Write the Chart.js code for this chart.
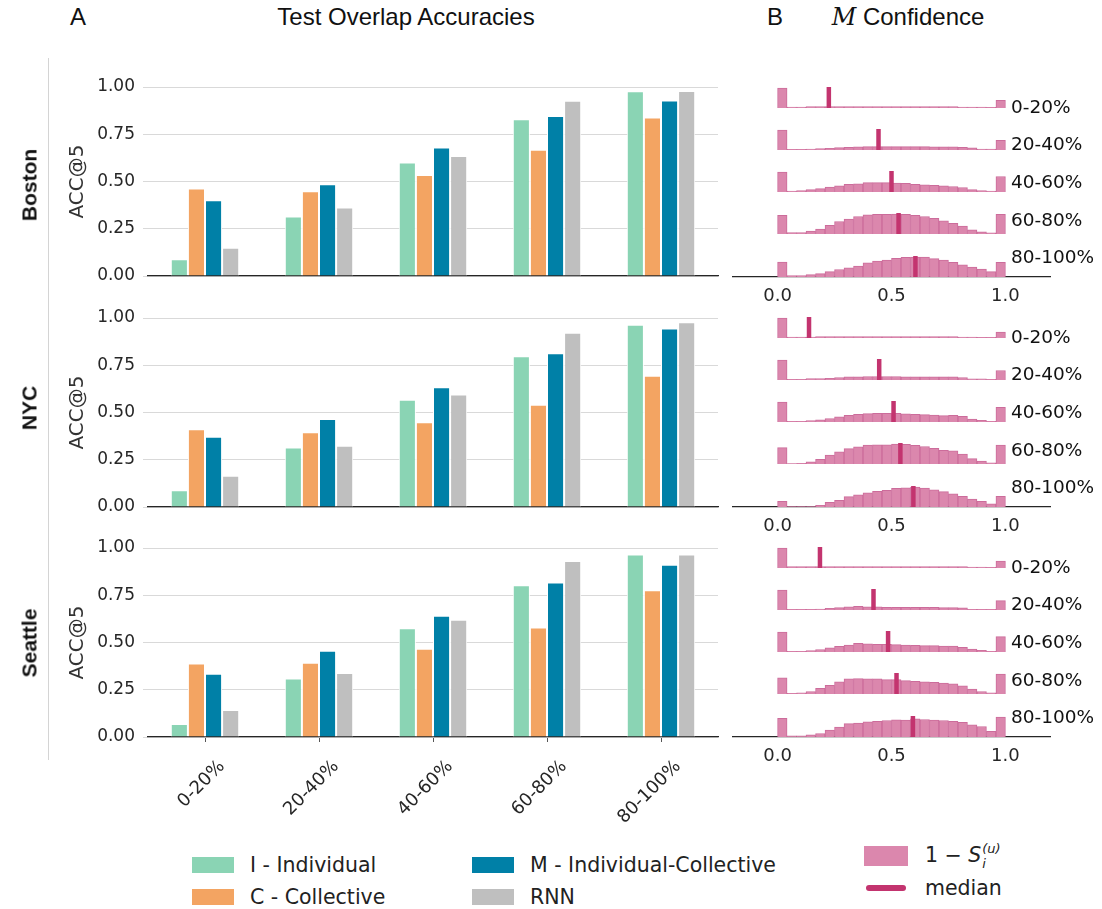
<!DOCTYPE html>
<html>
<head>
<meta charset="utf-8">
<script src="https://cdn.jsdelivr.net/npm/chart.js@4.4.1/dist/chart.umd.min.js"></script>
<style>
  html, body { margin: 0; padding: 0; background: #fff; }
  body { width: 1102px; height: 909px; position: relative; overflow: hidden; font-family: "DejaVu Sans", sans-serif; color: #262626; }
  canvas { position: absolute; }
  .txt { position: absolute; white-space: nowrap; line-height: 1; }
  .c { transform: translate(-50%, -50%); }
  .lm { transform: translateY(-50%); }
  .head { font-family: "Liberation Sans", Arial, sans-serif; font-size: 24px; color: #111; }
  .city { font-family: "Liberation Sans", Arial, sans-serif; font-weight: bold; font-size: 21px; color: #111; transform: translate(-50%, -50%) rotate(-90deg); }
  .rowlab { font-size: 18.5px; color: #111; }
  .leg { font-size: 20.5px; color: #222; }
  .patch { position: absolute; }
  .ms { display: inline-flex; flex-direction: column; vertical-align: middle; font-size: 13px; line-height: 1; margin-left: 1px; }
</style>
</head>
<body>
<script>
// ---- overlap buckets and methods ----
const overlapBins = ['0-20%', '20-40%', '40-60%', '60-80%', '80-100%'];
const methodNames = ['I - Individual', 'C - Collective', 'M - Individual-Collective', 'RNN'];
const accTicks = [0, 0.25, 0.5, 0.75, 1.0];
const confTicks = [0, 0.5, 1.0];

// ---- ACC@5 per overlap bucket ----
const bostonIndividual = [0.088, 0.315, 0.600, 0.830, 0.977];
const bostonCollective = [0.463, 0.449, 0.534, 0.668, 0.839];
const bostonMixed      = [0.401, 0.486, 0.680, 0.846, 0.929];
const bostonRnn        = [0.150, 0.362, 0.635, 0.927, 0.979];

const nycIndividual = [0.089, 0.315, 0.568, 0.798, 0.964];
const nycCollective = [0.412, 0.395, 0.448, 0.541, 0.694];
const nycMixed      = [0.372, 0.466, 0.634, 0.814, 0.945];
const nycRnn        = [0.165, 0.324, 0.595, 0.922, 0.977];

const seattleIndividual = [0.069, 0.310, 0.576, 0.803, 0.965];
const seattleCollective = [0.389, 0.393, 0.467, 0.579, 0.776];
const seattleMixed      = [0.335, 0.456, 0.641, 0.818, 0.911];
const seattleRnn        = [0.143, 0.338, 0.620, 0.931, 0.965];

// ---- M confidence histograms (24 bins over [0, 1]), one per overlap bucket ----
const bostonConf0_20   = [60, 3, 3, 4, 4, 4, 4, 4, 4, 4, 4, 4, 4, 4, 4, 4, 4, 4, 4, 3, 3, 3, 2, 23];
const bostonConf20_40  = [58, 2, 2, 3, 4, 5, 7, 8, 9, 10, 10, 10, 10, 10, 10, 10, 9, 9, 9, 8, 6, 3, 3, 28];
const bostonConf40_60  = [58, 3, 4, 7, 10, 14, 18, 22, 24, 27, 27, 27, 26, 25, 22, 21, 19, 18, 16, 13, 7, 4, 3, 45];
const bostonConf60_80  = [52, 4, 4, 8, 14, 24, 35, 42, 49, 54, 55, 55, 56, 55, 52, 49, 44, 37, 30, 22, 12, 6, 3, 55];
const bostonConf80_100 = [44, 4, 4, 7, 10, 16, 22, 27, 32, 42, 47, 50, 55, 58, 59, 59, 54, 50, 43, 36, 29, 23, 16, 43];
const bostonMedians    = [0.225, 0.443, 0.500, 0.531, 0.605];

const nycConf0_20   = [58, 3, 3, 3, 4, 4, 4, 4, 4, 4, 4, 4, 4, 4, 4, 4, 4, 4, 4, 3, 3, 2, 2, 17];
const nycConf20_40  = [57, 2, 2, 4, 4, 5, 7, 9, 9, 10, 10, 10, 10, 9, 9, 9, 9, 9, 9, 7, 3, 3, 2, 27];
const nycConf40_60  = [57, 2, 2, 4, 6, 10, 15, 19, 22, 24, 25, 25, 25, 23, 22, 21, 20, 18, 19, 16, 8, 5, 2, 42];
const nycConf60_80  = [46, 1, 2, 6, 13, 25, 34, 43, 48, 53, 54, 54, 56, 55, 52, 49, 44, 38, 37, 28, 15, 8, 3, 53];
const nycConf80_100 = [16, 1, 1, 1, 5, 13, 19, 29, 34, 40, 44, 47, 52, 54, 56, 53, 48, 43, 37, 30, 22, 16, 9, 30];
const nycMedians    = [0.138, 0.446, 0.509, 0.539, 0.596];

const seattleConf0_20   = [58, 4, 4, 4, 4, 4, 4, 4, 4, 4, 4, 4, 4, 4, 4, 4, 4, 4, 4, 4, 3, 3, 2, 20];
const seattleConf20_40  = [58, 2, 2, 2, 3, 5, 7, 9, 11, 9, 9, 8, 8, 8, 8, 8, 8, 7, 7, 6, 2, 2, 2, 27];
const seattleConf40_60  = [57, 2, 2, 4, 7, 12, 16, 20, 25, 23, 22, 22, 21, 20, 19, 18, 18, 17, 17, 13, 8, 5, 2, 44];
const seattleConf60_80  = [46, 2, 3, 7, 16, 25, 35, 43, 44, 43, 43, 41, 41, 38, 36, 35, 33, 31, 29, 23, 14, 7, 3, 57];
const seattleConf80_100 = [53, 3, 3, 6, 10, 20, 28, 38, 40, 43, 45, 47, 49, 48, 52, 50, 48, 47, 45, 42, 35, 30, 16, 57];
const seattleMedians    = [0.186, 0.421, 0.485, 0.522, 0.594];

// ---- styling ----
const methodColors = ['#8ad4b4', '#f3a462', '#0080a7', '#bfbfbf'];
const histFill = '#db87ad';
const histEdge = '#cc6c9b';
const medianColor = '#c3346f';
const inkColor = '#262626';

Chart.defaults.font.family = '"DejaVu Sans", sans-serif';
Chart.defaults.color = inkColor;

const cities = [
  { name: 'Boston',  series: [bostonIndividual, bostonCollective, bostonMixed, bostonRnn],
    hists: [bostonConf0_20, bostonConf20_40, bostonConf40_60, bostonConf60_80, bostonConf80_100], medians: bostonMedians },
  { name: 'NYC',     series: [nycIndividual, nycCollective, nycMixed, nycRnn],
    hists: [nycConf0_20, nycConf20_40, nycConf40_60, nycConf60_80, nycConf80_100], medians: nycMedians },
  { name: 'Seattle', series: [seattleIndividual, seattleCollective, seattleMixed, seattleRnn],
    hists: [seattleConf0_20, seattleConf20_40, seattleConf40_60, seattleConf60_80, seattleConf80_100], medians: seattleMedians }
];

function addCanvas(left, top, w, h) {
  const cv = document.createElement('canvas');
  cv.width = w; cv.height = h;
  cv.style.left = left + 'px'; cv.style.top = top + 'px';
  cv.style.width = w + 'px'; cv.style.height = h + 'px';
  document.body.appendChild(cv);
  return cv;
}

function addText(html, x, y, cls) {
  const d = document.createElement('div');
  d.className = 'txt ' + cls;
  d.style.left = x + 'px'; d.style.top = y + 'px';
  d.innerHTML = html;
  document.body.appendChild(d);
  return d;
}

function addBox(x, y, w, h, color, radius) {
  const d = document.createElement('div');
  d.className = 'patch';
  Object.assign(d.style, { left: x + 'px', top: y + 'px', width: w + 'px', height: h + 'px', background: color, borderRadius: (radius || 0) + 'px' });
  document.body.appendChild(d);
}

// Grouped bars of ACC@5 for one city; baseline is the pixel row of the zero line
function accuracyChart(city, baseline, withLabels) {
  const yMax = 1.0, unit = 188.5;
  const padTop = 12, plotH = Math.round(unit * yMax), axisH = withLabels ? 100 : 12;
  const cv = addCanvas(0, baseline - plotH - padTop, 730, padTop + plotH + axisH);
  return new Chart(cv, {
    type: 'bar',
    data: {
      labels: overlapBins,
      datasets: city.series.map((vals, i) => ({
        label: methodNames[i],
        data: vals,
        backgroundColor: methodColors[i],
        borderColor: '#ffffff',
        borderWidth: 1,
        barPercentage: 1.0,
        categoryPercentage: 0.6
      }))
    },
    options: {
      responsive: false, animation: false, devicePixelRatio: 1,
      layout: { padding: { top: padTop, right: 12, left: 0, bottom: 0 } },
      plugins: { legend: { display: false }, tooltip: { enabled: false } },
      scales: {
        x: {
          type: 'category', offset: true,
          grid: { display: true, offset: false, drawOnChartArea: false, drawTicks: withLabels, tickLength: 5, color: '#555' },
          border: { display: true, color: inkColor, width: 1.2 },
          ticks: { display: withLabels, minRotation: 45, maxRotation: 45, labelOffset: 17, padding: 14, font: { size: 18 }, color: inkColor },
          afterFit: s => { s.height = axisH; s.paddingLeft = 0; s.paddingRight = 0; }
        },
        y: {
          min: 0, max: yMax,
          afterBuildTicks: s => { s.ticks = accTicks.map(v => ({ value: v })); },
          ticks: { callback: v => Number(v).toFixed(2), font: { size: 17 }, color: inkColor, padding: 8 },
          grid: { color: '#d9d9d9', lineWidth: 1, tickLength: 5 },
          border: { display: false },
          title: { display: true, text: 'ACC@5', font: { size: 20 }, color: '#333', padding: { top: 66, bottom: 0 } },
          afterFit: s => { s.width = 148; s.paddingTop = 0; s.paddingBottom = 0; }
        }
      }
    }
  });
}

// One row of the M confidence histogram with its median marker
function confidenceChart(counts, median, baseline, isBottom) {
  const plotH = 21, axisH = isBottom ? 32 : 0;
  const yTop = Math.max(...counts) * 1.05;
  const cv = addCanvas(732, Math.round(baseline) - plotH, 319, plotH + axisH);
  return new Chart(cv, {
    type: 'bar',
    data: {
      datasets: [
        { type: 'line', data: [{ x: median, y: 0 }, { x: median, y: yTop }], borderColor: medianColor,
          borderWidth: 4.5, borderCapStyle: 'butt', pointRadius: 0, order: 0 },
        { type: 'bar', data: counts.map((c, i) => ({ x: (i + 0.5) / counts.length, y: c })),
          backgroundColor: histFill, borderColor: histEdge, borderWidth: 1,
          barPercentage: 1, categoryPercentage: 1, order: 1 }
      ]
    },
    options: {
      responsive: false, animation: false, devicePixelRatio: 1,
      layout: { padding: 0 },
      plugins: { legend: { display: false }, tooltip: { enabled: false } },
      scales: {
        x: {
          type: 'linear', min: -0.2, max: 1.2, offset: false, display: isBottom,
          afterBuildTicks: s => { s.ticks = confTicks.map(v => ({ value: v })); },
          ticks: { callback: v => Number(v).toFixed(1), font: { size: 18 }, color: inkColor, padding: 1 },
          grid: { display: false },
          border: { display: true, color: inkColor, width: 1.2 },
          afterFit: s => { s.height = axisH; s.paddingLeft = 0; s.paddingRight = 0; }
        },
        y: { display: false, min: 0, max: yTop }
      }
    }
  });
}

const barBaselines = [276, 507, 737];
const histBase = [107.7, 337.7, 567.7];
const rowLabelY = [106.7, 144, 182.3, 220, 257.3];
const cityLabelY = [185, 408, 643];

cities.forEach((city, ci) => {
  accuracyChart(city, barBaselines[ci], ci === cities.length - 1);
  city.hists.forEach((counts, k) => {
    confidenceChart(counts, city.medians[k], histBase[ci] + k * 42.25, k === city.hists.length - 1);
    addText(overlapBins[k], 1011, rowLabelY[k] + ci * 230, 'rowlab lm');
  });
  addText(city.name, 29, cityLabelY[ci], 'city');
});

// panel separator
addBox(48, 58, 1, 702, '#d4d4d4');

// headings
addText('A', 78, 17, 'head c');
addText('Test Overlap Accuracies', 406, 17, 'head c');
addText('B', 775, 17, 'head c');
addText('<span style="font-family:\'DejaVu Serif\',serif;font-style:italic">M</span> Confidence', 908, 17, 'head c');

// legend for the accuracy bars (two columns)
const legendSpots = [[192, 865], [192, 897], [472, 865], [472, 897]];
methodNames.forEach((name, i) => {
  const [x, y] = legendSpots[i];
  addBox(x, y - 8, 42, 16, methodColors[i]);
  addText(name, x + 58, y, 'leg lm');
});

// legend for the confidence panel
addBox(864, 846, 44, 20, histFill);
addText('1 − <i>S</i><span class="ms"><span><i>(u)</i></span><span style="margin-top:2px"><i>i</i></span></span>', 925, 856, 'leg lm');
addBox(866, 885, 40, 6, medianColor, 3);
addText('median', 925, 888, 'leg lm');
</script>
</body>
</html>
